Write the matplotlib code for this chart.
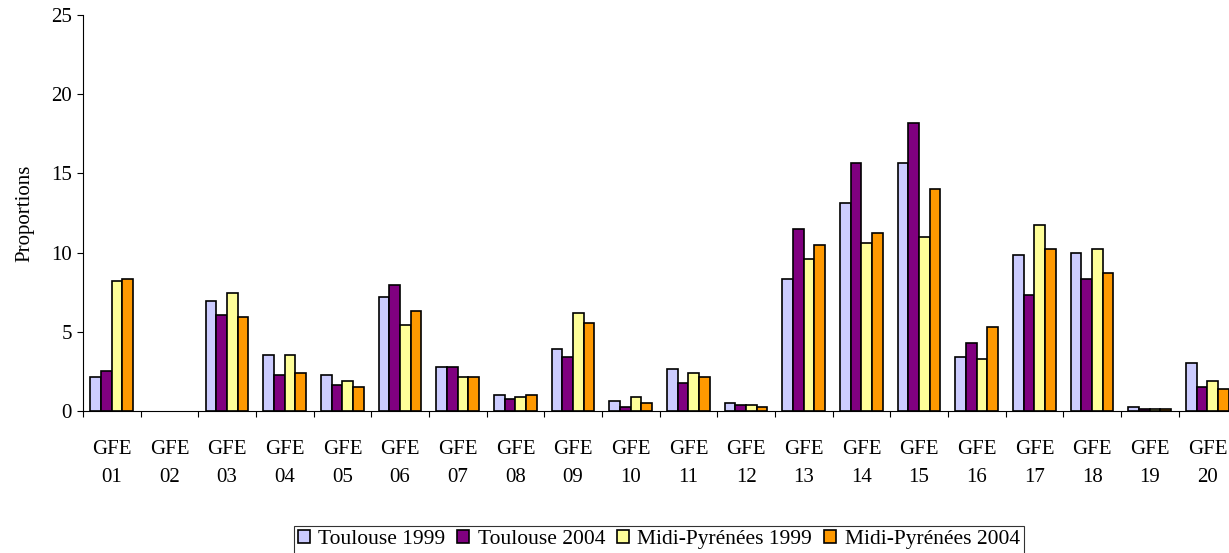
import numpy as np
import matplotlib.pyplot as plt

# Data
categories = [f"GFE\n{i:02d}" for i in range(1, 21)]
toulouse_1999 = [2.15, 0, 6.94, 3.53, 2.27, 7.19, 2.78, 1.01, 3.91, 0.63,
                 2.65, 0.50, 8.33, 13.12, 15.65, 3.41, 9.84, 9.97, 0.25, 3.03]
toulouse_2004 = [2.52, 0, 6.06, 2.27, 1.64, 7.95, 2.78, 0.76, 3.41, 0.25,
                 1.77, 0.38, 11.48, 15.65, 18.17, 4.29, 7.32, 8.33, 0.12, 1.51]
midipy_1999 = [8.2, 0, 7.44, 3.53, 1.89, 5.43, 2.15, 0.88, 6.18, 0.88,
               2.40, 0.38, 9.59, 10.6, 10.98, 3.28, 11.73, 10.22, 0.12, 1.89]
midipy_2004 = [8.33, 0, 5.93, 2.40, 1.51, 6.31, 2.15, 1.01, 5.55, 0.50,
               2.15, 0.25, 10.47, 11.23, 14.0, 5.30, 10.22, 8.71, 0.12, 1.39]
series_names = ["Toulouse 1999", "Toulouse 2004", "Midi-Pyrénées 1999", "Midi-Pyrénées 2004"]
colors = ["#CCCCFF", "#800080", "#FFFF99", "#FF9900"]

plt.rcParams['font.family'] = ['Liberation Serif', 'DejaVu Serif']
fs = 15

fig = plt.figure(figsize=(12.29, 5.53), dpi=100)
ax = fig.add_axes([0.0675, 0.2568, 0.9384, 0.7161])

x = np.arange(len(categories))
width = 0.185
all_series = [toulouse_1999, toulouse_2004, midipy_1999, midipy_2004]
for i, (vals, name, c) in enumerate(zip(all_series, series_names, colors)):
    # no outline for empty bars (GFE 02 shows nothing in the original)
    edges = ['black' if v > 0 else 'none' for v in vals]
    ax.bar(x + (i - 1.5) * width, vals, width, color=c, edgecolor=edges,
           linewidth=1.2, label=name)

ax.set_xlim(-0.5, len(categories) - 0.5)
ax.set_ylim(0, 25)
ax.set_yticks([0, 5, 10, 15, 20, 25])
ax.set_xticks(np.arange(-0.5, len(categories)), minor=False)
ax.set_xticklabels([])
ax.set_xticks(x, minor=True)
ax.set_xticklabels(categories, minor=True, linespacing=1.6)
ax.tick_params(axis='x', which='minor', length=0, pad=21, labelsize=fs)
ax.tick_params(axis='x', which='major', length=4, direction='out')
ax.tick_params(axis='y', length=4, labelsize=fs, pad=4)
ax.set_ylabel('Proportions', fontsize=fs, labelpad=12)

for s in ['top', 'right']:
    ax.spines[s].set_visible(False)

leg = fig.legend(loc='center', bbox_to_anchor=(0.536, 0.024), ncol=4, fontsize=15.5,
                 frameon=True, fancybox=False, edgecolor='black', handlelength=0.55,
                 handleheight=0.55, handletextpad=0.4, columnspacing=0.55,
                 borderpad=0.2)
leg.get_frame().set_linewidth(0.8)

fig.savefig('out.png', dpi=100)
